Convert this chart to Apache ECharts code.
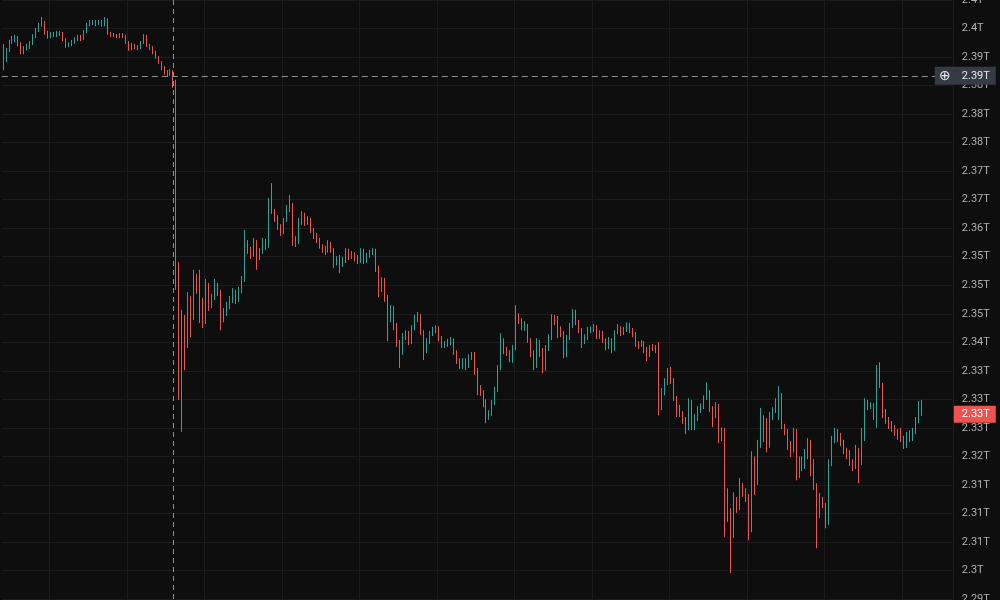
<!DOCTYPE html>
<html>
<head>
<meta charset="utf-8">
<script src="https://cdn.jsdelivr.net/npm/echarts@6/dist/echarts.min.js"></script>
<style>
html,body{margin:0;padding:0;background:#0e0e0e;}
#chart{width:1000px;height:600px;}
</style>
</head>
<body>
<div id="chart"></div>
<script>
// Candles: [open, close, lowest, highest] in billions
const ohlc = [
[2391.9,2390.4,2387.7,2392.3],[2390.4,2391.2,2389.1,2391.6],[2391.2,2392.6,2390.9,2393.0],[2392.6,2393.2,2392.3,2393.7],[2393.2,2393.3,2392.6,2393.9],[2393.3,2392.3,2391.9,2393.7],[2392.3,2390.9,2390.5,2392.6],[2390.9,2391.6,2390.5,2391.9],[2391.6,2391.8,2391.2,2392.3],[2391.8,2392.5,2391.4,2392.8],
[2392.5,2393.7,2392.1,2394.0],[2393.7,2394.7,2393.3,2395.1],[2394.7,2395.6,2394.4,2396.0],[2395.6,2396.1,2395.3,2397.0],[2396.1,2394.2,2393.9,2396.3],[2394.2,2393.7,2393.2,2394.6],[2393.7,2394.0,2393.3,2394.4],[2394.0,2393.9,2393.5,2394.4],[2393.9,2394.2,2393.5,2394.6],[2394.2,2394.0,2393.7,2394.6],
[2394.0,2393.2,2392.8,2394.4],[2393.2,2391.9,2391.6,2393.3],[2391.9,2392.3,2391.8,2392.6],[2392.3,2392.6,2391.9,2393.0],[2392.6,2393.2,2392.3,2393.5],[2393.2,2393.5,2392.8,2393.9],[2393.5,2393.2,2392.8,2393.9],[2393.2,2394.4,2393.0,2394.7],[2394.4,2395.6,2394.2,2396.0],[2395.6,2396.0,2395.4,2396.5],
[2396.0,2396.1,2395.6,2396.5],[2396.1,2395.8,2395.4,2396.5],[2395.8,2396.1,2395.6,2396.5],[2396.1,2395.6,2395.3,2396.5],[2395.6,2396.7,2395.4,2397.0],[2396.7,2394.2,2393.9,2396.8],[2394.2,2393.9,2393.5,2394.4],[2393.9,2393.7,2393.5,2394.2],[2393.7,2393.5,2393.3,2394.0],[2393.5,2393.9,2393.3,2394.2],
[2393.9,2393.7,2393.3,2394.2],[2393.7,2392.6,2392.3,2393.9],[2392.6,2391.4,2391.1,2392.8],[2391.4,2392.1,2391.2,2392.5],[2392.1,2391.8,2391.4,2392.3],[2391.8,2391.6,2391.2,2392.1],[2391.6,2392.5,2391.4,2392.8],[2392.5,2393.7,2392.3,2394.0],[2393.7,2392.1,2391.8,2393.9],[2392.1,2391.6,2391.2,2392.3],
[2391.6,2390.9,2390.5,2391.9],[2390.9,2390.0,2389.7,2391.1],[2390.0,2389.1,2388.8,2390.2],[2389.1,2388.1,2387.7,2389.3],[2388.1,2387.2,2386.9,2388.4],[2387.2,2387.0,2386.5,2387.7],[2387.0,2387.4,2386.7,2387.9],[2387.4,2385.6,2384.6,2387.7],
[2385.6,2352.7,2349.2,2386.0],[2352.7,2337.8,2329.9,2354.1],
[2337.8,2343.0,2324.3,2345.7],[2343.0,2341.3,2335.1,2344.8],[2341.3,2347.4,2339.0,2348.8],[2347.4,2344.2,2340.9,2348.1],[2344.2,2351.3,2343.9,2352.7],[2351.3,2349.5,2348.5,2352.0],[2349.5,2347.4,2343.4,2352.7],[2347.4,2343.5,2342.5,2347.8],[2343.5,2350.0,2343.2,2351.1],[2350.0,2346.5,2345.5,2350.4],
[2346.5,2347.8,2346.0,2348.5],[2347.8,2350.0,2347.4,2351.1],[2350.0,2348.8,2348.1,2350.4],[2348.8,2344.2,2342.1,2349.2],[2344.2,2345.1,2343.5,2346.0],[2345.1,2346.4,2344.6,2347.1],[2346.4,2347.4,2345.8,2348.1],[2347.4,2348.8,2346.9,2349.5],[2348.8,2347.4,2346.7,2349.2],[2347.4,2349.0,2347.1,2349.7],
[2349.0,2350.9,2348.6,2351.6],[2350.9,2357.1,2350.6,2359.7],[2357.1,2356.2,2355.5,2357.9],[2356.2,2355.3,2354.6,2356.7],[2355.3,2357.6,2355.0,2358.3],[2357.6,2355.3,2352.7,2357.9],[2355.3,2355.8,2354.4,2356.5],[2355.8,2357.8,2355.5,2358.3],[2357.8,2356.9,2356.2,2358.1],[2356.9,2364.1,2356.5,2365.3],
[2364.1,2362.8,2362.5,2367.9],[2362.8,2361.8,2361.1,2363.4],[2361.8,2360.4,2359.7,2362.3],[2360.4,2359.3,2358.6,2360.7],[2359.3,2361.4,2359.0,2361.8],[2361.4,2363.5,2361.1,2364.1],[2363.5,2364.1,2362.8,2365.8],[2364.1,2357.9,2356.9,2364.4],[2357.9,2357.6,2356.7,2358.6],[2357.6,2361.1,2357.2,2361.8],
[2361.1,2362.3,2360.6,2363.0],[2362.3,2361.1,2360.4,2362.7],[2361.1,2361.4,2360.6,2362.1],[2361.4,2359.7,2359.2,2361.8],[2359.7,2358.6,2358.1,2360.0],[2358.6,2357.9,2357.4,2359.2],[2357.9,2356.9,2356.4,2358.3],[2356.9,2356.4,2355.7,2357.2],[2356.4,2356.0,2355.3,2356.9],[2356.0,2357.2,2355.7,2357.9],
[2357.2,2356.2,2355.7,2357.6],[2356.2,2354.1,2353.0,2356.5],[2354.1,2354.8,2353.5,2355.1],[2354.8,2353.5,2352.1,2355.3],[2353.5,2354.4,2353.2,2355.0],[2354.4,2356.0,2353.9,2356.5],[2356.0,2355.0,2354.4,2356.4],[2355.0,2355.5,2354.6,2356.0],[2355.5,2354.8,2354.2,2355.8],[2354.8,2354.2,2353.7,2355.3],
[2354.2,2356.0,2353.9,2356.5],[2356.0,2354.2,2353.7,2356.4],[2354.2,2355.1,2353.9,2355.7],[2355.1,2355.7,2354.8,2356.2],[2355.7,2356.0,2355.3,2356.5],[2356.0,2353.0,2352.3,2356.4],[2353.0,2349.2,2347.9,2353.4],[2349.2,2350.9,2348.8,2351.4],[2350.9,2347.9,2347.1,2351.3],[2347.9,2343.9,2340.2,2348.3],
[2343.9,2346.0,2343.5,2346.5],[2346.0,2342.8,2342.1,2346.4],[2342.8,2340.0,2339.2,2343.4],[2340.0,2338.3,2335.5,2340.4],[2338.3,2340.9,2337.8,2341.6],[2340.9,2341.4,2340.4,2342.1],[2341.4,2340.0,2339.5,2342.0],[2340.0,2342.5,2339.7,2343.0],[2342.5,2344.2,2342.1,2344.8],[2344.2,2344.6,2343.5,2345.3],
[2344.6,2341.8,2341.3,2344.9],[2341.8,2338.6,2336.9,2342.1],[2338.6,2340.2,2338.1,2340.7],[2340.2,2341.4,2339.7,2342.0],[2341.4,2342.1,2341.1,2342.7],[2342.1,2342.5,2341.6,2343.0],[2342.5,2340.7,2340.2,2342.8],[2340.7,2339.5,2339.0,2341.1],[2339.5,2339.7,2339.0,2340.2],[2339.7,2339.9,2339.2,2340.6],
[2339.9,2340.4,2339.5,2340.9],[2340.4,2338.3,2337.8,2340.7],[2338.3,2336.7,2336.2,2338.6],[2336.7,2335.8,2335.3,2337.2],[2335.8,2336.7,2335.3,2337.2],[2336.7,2335.8,2335.1,2337.2],[2335.8,2337.4,2335.5,2337.9],[2337.4,2337.6,2336.9,2338.3],[2337.6,2335.1,2334.3,2338.3],[2335.1,2332.0,2330.7,2335.5],
[2332.0,2331.3,2330.6,2332.5],[2331.3,2329.5,2328.6,2331.6],[2329.5,2327.2,2325.8,2330.0],[2327.2,2327.6,2326.4,2328.1],[2327.6,2329.3,2327.1,2329.9],[2329.3,2331.6,2329.0,2332.2],[2331.6,2335.5,2331.3,2336.0],[2335.5,2340.0,2335.1,2341.6],[2340.0,2338.6,2337.9,2340.7],[2338.6,2338.1,2337.6,2339.2],
[2338.1,2337.2,2336.5,2338.6],[2337.2,2339.0,2336.4,2339.5],[2339.0,2344.2,2338.6,2346.5],[2344.2,2343.9,2343.2,2345.1],[2343.9,2342.7,2342.1,2344.2],[2342.7,2342.8,2342.0,2343.7],[2342.8,2340.4,2339.9,2343.2],[2340.4,2338.1,2337.4,2340.7],[2338.1,2336.0,2335.1,2338.6],[2336.0,2340.0,2335.5,2340.7],
[2340.0,2338.6,2337.4,2340.4],[2338.6,2335.5,2334.6,2339.0],[2335.5,2339.0,2335.0,2339.5],[2339.0,2340.7,2338.5,2341.4],[2340.7,2344.2,2340.4,2344.9],[2344.2,2343.5,2343.0,2344.8],[2343.5,2342.1,2340.7,2344.6],[2342.1,2341.6,2340.9,2342.8],[2341.6,2337.9,2337.2,2342.0],[2337.9,2340.7,2337.4,2341.3],
[2340.7,2342.8,2340.4,2343.4],[2342.8,2345.3,2342.5,2345.8],[2345.3,2343.5,2343.0,2345.7],[2343.5,2342.1,2341.6,2343.9],[2342.1,2340.4,2339.0,2342.5],[2340.4,2340.9,2339.7,2341.4],[2340.9,2342.1,2340.4,2342.7],[2342.1,2342.3,2341.6,2342.8],[2342.3,2342.7,2341.8,2343.2],[2342.7,2341.1,2340.6,2343.0],
[2341.1,2341.6,2340.6,2342.1],[2341.6,2340.4,2339.9,2342.0],[2340.4,2339.3,2338.6,2340.7],[2339.3,2340.4,2338.8,2340.9],[2340.4,2338.8,2338.1,2340.7],[2338.8,2341.8,2338.5,2342.1],[2341.8,2342.5,2341.4,2343.2],[2342.5,2341.6,2341.1,2342.8],[2341.6,2342.1,2341.3,2342.7],[2342.1,2343.0,2341.8,2343.5],
[2343.0,2342.1,2341.6,2343.4],[2342.1,2341.4,2340.9,2342.5],[2341.4,2339.7,2339.2,2341.8],[2339.7,2339.5,2338.8,2340.2],[2339.5,2339.9,2339.2,2340.4],[2339.9,2338.6,2338.1,2340.2],[2338.6,2337.8,2336.7,2339.2],[2337.8,2339.2,2337.4,2339.5],[2339.2,2339.0,2338.5,2339.7],[2339.0,2338.6,2338.1,2339.5],
[2338.6,2328.5,2327.2,2340.0],[2328.5,2331.3,2328.1,2332.0],[2331.3,2333.0,2330.7,2333.7],[2333.0,2334.8,2332.5,2335.5],[2334.8,2333.4,2332.7,2335.7],[2333.4,2330.2,2329.7,2333.7],[2330.2,2328.5,2326.9,2330.6],[2328.5,2327.6,2326.9,2329.0],[2327.6,2326.4,2325.7,2327.9],[2326.4,2325.0,2323.9,2326.9],
[2325.0,2329.5,2324.6,2330.2],[2329.5,2325.5,2324.6,2329.9],[2325.5,2326.7,2324.6,2327.4],[2326.7,2328.1,2326.2,2328.8],[2328.1,2328.8,2327.6,2329.3],[2328.8,2330.2,2328.3,2330.7],[2330.2,2331.3,2329.9,2333.0],[2331.3,2328.3,2327.8,2331.6],[2328.3,2327.2,2325.1,2328.8],[2327.2,2328.8,2326.7,2329.5],
[2328.8,2323.2,2322.3,2329.2],[2323.2,2324.6,2322.7,2325.1],[2324.6,2308.8,2305.9,2325.0],[2308.8,2310.2,2308.5,2314.4],[2310.2,2306.2,2299.6,2310.9],[2306.2,2312.3,2305.7,2313.7],[2312.3,2311.1,2310.1,2312.9],[2311.1,2314.8,2310.6,2316.2],[2314.8,2313.7,2312.9,2315.3],[2313.7,2312.9,2312.0,2314.4],
[2312.9,2307.4,2305.3,2313.4],[2307.4,2319.5,2306.7,2320.9],[2319.5,2315.5,2313.2,2320.0],[2315.5,2322.0,2315.0,2322.9],[2322.0,2326.7,2321.5,2328.5],[2326.7,2323.2,2322.5,2327.2],[2323.2,2322.0,2320.7,2326.7],[2322.0,2327.1,2321.5,2327.8],[2327.1,2328.1,2326.4,2328.6],[2328.1,2329.5,2327.6,2330.2],
[2329.5,2330.7,2326.4,2332.3],[2330.7,2325.3,2324.8,2331.1],[2325.3,2324.4,2323.7,2325.7],[2324.4,2322.0,2321.1,2324.8],[2322.0,2321.5,2319.9,2322.7],[2321.5,2324.4,2320.7,2325.0],[2324.4,2316.7,2315.8,2324.8],[2316.7,2319.5,2316.2,2320.0],[2319.5,2318.1,2317.4,2320.0],[2318.1,2320.4,2317.8,2321.3],
[2320.4,2322.5,2319.5,2323.2],[2322.5,2318.1,2316.5,2322.9],[2318.1,2315.0,2314.1,2319.5],[2315.0,2309.7,2303.9,2315.3],[2309.7,2312.0,2309.2,2313.6],[2312.0,2311.5,2310.9,2312.9],[2311.5,2308.5,2307.4,2311.8],[2308.5,2318.8,2308.0,2319.5],[2318.8,2322.9,2318.3,2323.6],[2322.9,2324.4,2322.3,2325.0],
[2324.4,2323.4,2322.5,2324.8],[2323.4,2322.5,2321.8,2324.1],[2322.5,2320.9,2320.4,2322.9],[2320.9,2320.4,2319.5,2321.5],[2320.4,2318.8,2318.3,2321.1],[2318.8,2318.1,2317.4,2319.5],[2318.1,2321.1,2317.8,2322.0],[2321.1,2318.8,2315.3,2321.5],[2318.8,2323.2,2318.5,2325.0],[2323.2,2329.5,2322.7,2330.2],
[2329.5,2328.8,2328.1,2329.9],[2328.8,2329.0,2328.3,2329.5],[2329.0,2327.1,2326.4,2329.3],[2327.1,2335.1,2325.0,2336.0],[2335.1,2332.5,2332.0,2336.5],[2332.5,2327.8,2326.7,2332.9],[2327.8,2326.4,2325.7,2328.3],[2326.4,2325.7,2324.8,2326.9],[2325.7,2325.0,2324.3,2326.2],[2325.0,2324.1,2323.6,2325.5],
[2324.1,2323.6,2322.9,2324.8],[2323.6,2323.2,2322.5,2325.0],[2323.2,2321.8,2321.3,2323.6],[2321.8,2323.9,2321.5,2324.3],[2323.9,2323.0,2322.5,2324.6],[2323.0,2324.4,2322.7,2325.0],[2324.4,2326.4,2323.9,2326.9],[2326.4,2329.2,2325.8,2329.7],[2329.2,2327.4,2327.1,2329.9]
];

// Time slots on the x axis (visible range includes empty slots to the right)
const SLOT_COUNT = 319;
const categories = Array.from({length: SLOT_COUNT}, (_, i) => 'bar ' + (i + 1));

// Price axis (billions), ticks from bottom to top
const yMin = 2295, yMax = 2400, yStep = 5;
const yTickLabels = ['2.29T','2.3T','2.31T','2.31T','2.31T','2.32T','2.33T','2.33T','2.33T','2.34T','2.35T','2.35T','2.35T','2.36T','2.37T','2.37T','2.38T','2.38T','2.38T','2.39T','2.4T','2.4T'];

// Crosshair and last price
const crosshairIndex = 57;
const crosshairValue = 2386.7;
const crosshairLabel = '2.39T';
const lastPriceLabel = '2.33T';

const UP = '#26a69a', DOWN = '#ef5350';
const GRID = '#1c1c1c';
const lastClose = ohlc[ohlc.length - 1][1];

const chart = echarts.init(document.getElementById('chart'), null, {renderer: 'canvas'});
chart.setOption({
  animation: false,
  backgroundColor: '#0e0e0e',
  grid: {left: 1.8, right: 47.2, top: 0, bottom: 1, containLabel: false, outerBoundsMode: 'none'},
  xAxis: {
    type: 'category',
    data: categories,
    boundaryGap: true,
    axisLine: {show: false},
    axisTick: {show: false},
    axisLabel: {show: false},
    splitLine: {
      show: true,
      interval: function (i) { return i >= 16 && (i - 16) % 26 === 0; },
      lineStyle: {color: GRID, width: 1}
    }
  },
  yAxis: {
    type: 'value',
    position: 'right',
    min: yMin,
    max: yMax,
    interval: yStep,
    axisLine: {show: false},
    axisTick: {show: false},
    axisLabel: {
      margin: 9,
      color: '#b0b0b0',
      fontFamily: 'Roboto',
      fontSize: 11,
      showMinLabel: true,
      showMaxLabel: true,
      formatter: function (v) { return yTickLabels[Math.round((v - yMin) / yStep)]; }
    },
    splitLine: {show: true, lineStyle: {color: GRID, width: 1}}
  },
  series: [{
    type: 'candlestick',
    data: ohlc,
    barWidth: 0.6,
    clip: false,
    itemStyle: {color: UP, color0: DOWN, borderColor: UP, borderColor0: DOWN, borderWidth: 1},
    markLine: {
      silent: true,
      animation: false,
      symbol: ['none', 'none'],
      data: [
        {
          xAxis: crosshairIndex,
          lineStyle: {color: '#8c8f96', type: [5, 4], width: 1},
          label: {show: false}
        },
        {
          yAxis: crosshairValue,
          lineStyle: {color: '#8c8f96', type: [6, 4], width: 1},
          label: {
            show: true,
            position: 'end',
            distance: -18,
            opacity: 1,
            backgroundColor: '#363a45',
            formatter: '{icon|\u2295}{val|' + crosshairLabel + '}',
            rich: {
              icon: {fontFamily: 'DejaVu Sans', fontSize: 14, color: '#e6e8ee', width: 20, align: 'center', lineHeight: 18, height: 18},
              val: {fontFamily: 'Roboto', fontSize: 11, color: '#e6e8ee', lineHeight: 18, height: 18, padding: [0, 6, 0, 7]}
            }
          }
        },
        {
          yAxis: lastClose,
          lineStyle: {color: 'rgba(0,0,0,0)', width: 1},
          label: {
            show: true,
            position: 'end',
            distance: 1,
            opacity: 1,
            formatter: lastPriceLabel,
            color: '#ffffff',
            backgroundColor: '#ef5350',
            fontFamily: 'Roboto',
            fontSize: 11,
            lineHeight: 13,
            padding: [2, 6, 2, 8]
          }
        }
      ]
    }
  }]
});
</script>
</body>
</html>
